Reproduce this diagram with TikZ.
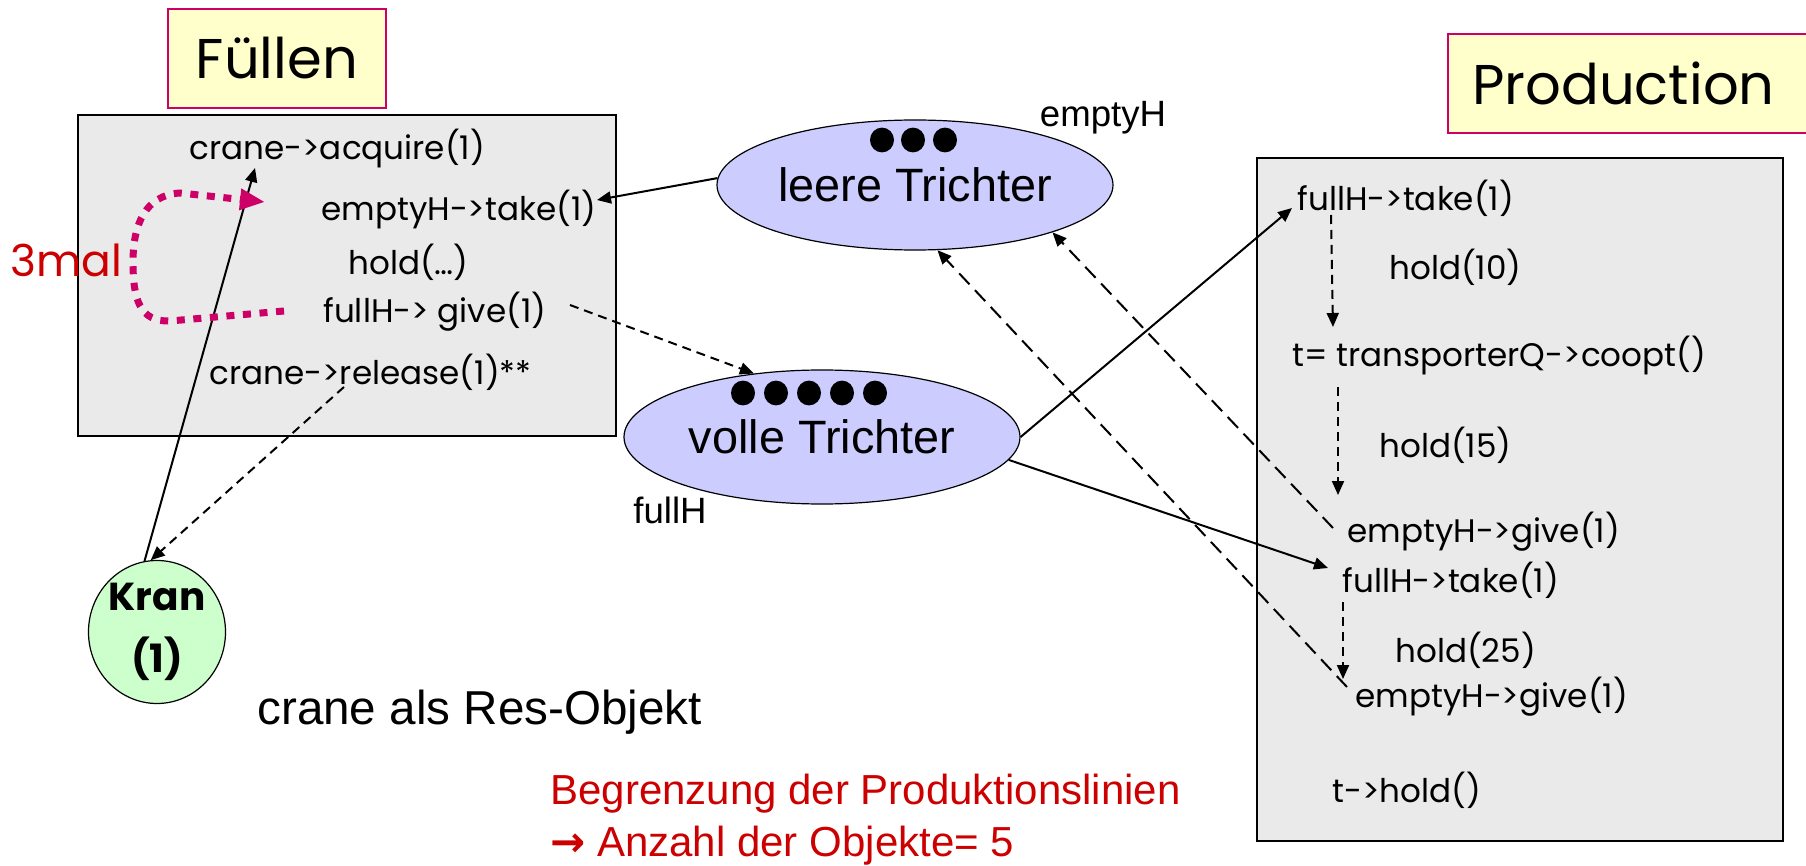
\documentclass[tikz,border=0pt]{standalone}
\usepackage{fontspec}
\setmainfont{Liberation Sans}
\newfontfamily\codefont{Poppins}
\newfontfamily\arrowfont{DejaVu Sans}
\usetikzlibrary{arrows.meta,calc,shapes.geometric}

\definecolor{boxgray}{HTML}{EAEAEA}
\definecolor{titlefill}{HTML}{FFFFCC}
\definecolor{titleframe}{HTML}{CC0066}
\definecolor{poolfill}{HTML}{CCCCFF}
\definecolor{kranfill}{HTML}{CCFFCC}
\definecolor{notered}{HTML}{CC0000}
\definecolor{looppink}{HTML}{CC0066}

\tikzset{
  codetext/.style={font=\codefont\fontsize{16.3}{19}\selectfont, anchor=west, inner sep=0pt},
  titlebox/.style={draw=titleframe, line width=0.8pt, fill=titlefill, inner sep=0pt,
    font=\codefont\fontsize{28}{32}\selectfont},
  procbox/.style={draw=black, line width=0.9pt, fill=boxgray, inner sep=0pt},
  pool/.style={ellipse, draw=black, line width=0.6pt, fill=poolfill, inner sep=0pt,
    minimum width=198pt, font=\fontsize{23.4}{28}\selectfont},
  poolname/.style={inner sep=0pt, font=\fontsize{18.3}{22}\selectfont},
  token/.style={fill=black},
  arr/.style={line width=1pt, -{Triangle[length=7pt,width=6pt]}},
  darr/.style={arr, dash pattern=on 7.5pt off 4pt},
  sdarr/.style={arr, dash pattern=on 4.5pt off 3pt},
  loopline/.style={draw=looppink, line width=3.5pt, dash pattern=on 4pt off 4.3pt,
    -{Triangle[length=12.5pt,width=10pt,fill=looppink]}},
}

\begin{document}
\begin{tikzpicture}[x=0.5pt,y=-0.5pt]
\useasboundingbox (0,0) rectangle (1806,866);

% process boxes
\node[procbox, minimum width=269pt, minimum height=160.5pt] (fillbox) at (347,275.5) {};
\node[procbox, minimum width=263pt, minimum height=341.5pt] (prodbox) at (1520,499.5) {};

% titles
\node[titlebox, minimum width=109pt, minimum height=49.5pt] (ftitle) at (277,58.5) {Füllen};
\node[titlebox, minimum width=182pt, minimum height=49.5pt, text width=182pt, align=left] (ptitle) at (1630,83.5) {\hspace*{12pt}Production};

% filling process statements
\node[codetext] (acq)  at (189,149) {crane->acquire(1)};
\node[codetext] (take) at (321,210) {emptyH->take(1)};
\node[codetext] (hold) at (348,262) {hold(…)};
\node[codetext] (give) at (323,312) {fullH-> give(1)};
\node[codetext] (rel)  at (209,372) {crane->release(1)**};

% production process statements
\node[codetext] (ptake1) at (1297,198) {fullH->take(1)};
\node[codetext] (phold1) at (1389,267) {hold(10)};
\node[codetext] (coopt)  at (1292,356) {t= transporterQ->coopt()};
\node[codetext] (phold2) at (1379,445) {hold(15)};
\node[codetext] (pgive1) at (1347,532) {emptyH->give(1)};
\node[codetext] (ptake2) at (1342,580) {fullH->take(1)};
\node[codetext] (phold3) at (1395,650) {hold(25)};
\node[codetext] (pgive2) at (1355,697) {emptyH->give(1)};
\node[codetext] (thold)  at (1332,790) {t->hold()};

% hopper pools
\node[pool, minimum height=65pt] (leere) at (915,185) {leere Trichter};
\node[pool, minimum height=67pt] (volle) at (822,437) {volle Trichter};
\node[poolname] (emptyname) at (1103,118) {emptyH};
\node[poolname] (fullname) at (670,510) {fullH};

% tokens
\foreach \cx in {882,913,945} \fill[token] (\cx,140) ellipse (6pt and 6.2pt);
\foreach \cx in {743,776,809,842,875} \fill[token] (\cx,393) ellipse (6pt and 6.2pt);

% crane resource
\node[ellipse, draw=black, line width=0.6pt, fill=kranfill, inner sep=0pt,
  minimum width=68.5pt, minimum height=71.5pt, align=center,
  font=\codefont\bfseries\fontsize{19.5}{31}\selectfont] (kran) at (157,632) {Kran\\(1)};

\node[anchor=west, inner sep=0pt, font=\fontsize{23.8}{28}\selectfont] (resnote) at (257,712) {crane als Res-Objekt};
\node[anchor=west, inner sep=0pt, align=left, text=notered, font=\fontsize{21}{26}\selectfont] (limit) at (550,820)
  {Begrenzung der Produktionslinien\\{\arrowfont\bfseries →} Anzahl der Objekte= 5};

% repetition marker
\node[anchor=west, inner sep=0pt, text=notered, font=\codefont\fontsize{22}{26}\selectfont] (times) at (10,260) {3mal};

% connector end points
\coordinate (acqIn)   at (255,168);
\coordinate (takeIn)  at (597,200);
\coordinate (giveOut) at (570,305);
\coordinate (relOut)  at (344,387);
\coordinate (tk1In)   at (1292,208);
\coordinate (tk2In)   at (1328,568);
\coordinate (gv1Out)  at (1333,528);
\coordinate (gv2Out)  at (1347,687);
\coordinate (dA1) at (1331,215); \coordinate (dA2) at (1333,327);
\coordinate (dB1) at (1338,387); \coordinate (dB2) at (1338,495);
\coordinate (dC1) at (1343,602); \coordinate (dC2) at (1343,679);
\coordinate (loopStart) at (284,311);
\coordinate (loopEnd)   at (265,202);

% connectors
\draw[arr] (kran.100) -- (acqIn);
\draw[sdarr] (relOut) -- (kran.95);
\draw[arr] (leere.178) -- (takeIn);
\draw[sdarr] (giveOut) -- (volle.137.6);
\draw[arr] (volle.0) -- (tk1In);
\draw[arr] (volle.-7.8) -- (tk2In);
\draw[darr] (gv1Out) -- (leere.-19.7);
\draw[darr] (gv2Out) -- (leere.-71.8);
\draw[sdarr] (dA1) -- (dA2);
\draw[sdarr] (dB1) -- (dB2);
\draw[sdarr] (dC1) -- (dC2);

% loop three times
\draw[loopline] (loopStart) -- (170,321) .. controls (140,322) and (133,300) .. (133,262)
  .. controls (133,225) and (145,195) .. (180,193) -- (loopEnd);
\end{tikzpicture}
\end{document}
